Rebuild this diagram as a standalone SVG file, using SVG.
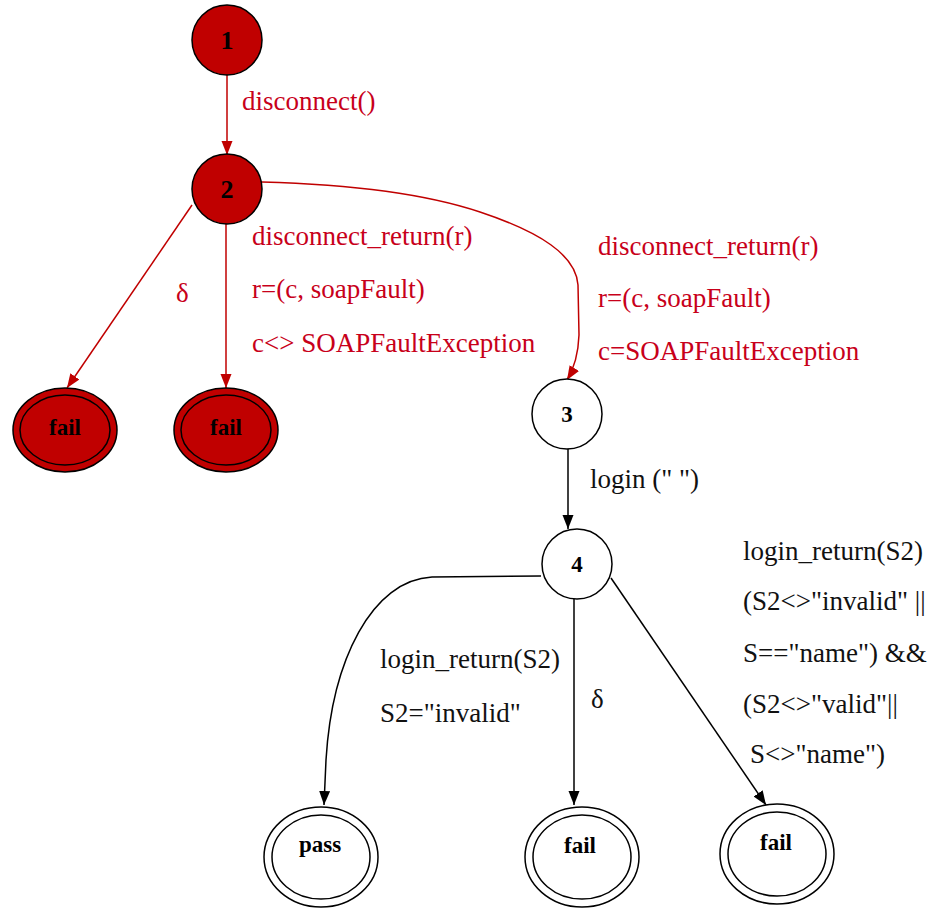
<svg xmlns="http://www.w3.org/2000/svg" width="930" height="908" viewBox="0 0 930 908">
<style>
.lbl{font-family:"Liberation Serif","Times New Roman",serif;font-size:27px}
.red{fill:#c8001a}
.blk{fill:#111}
.nl{font-family:"Liberation Serif","Times New Roman",serif;font-weight:bold;font-size:23px;fill:#000;text-anchor:middle}
.dg{font-size:26px}
.rn{fill:#c00000;stroke:#000;stroke-width:1.5}
.wn{fill:#fff;stroke:#000;stroke-width:1.5}
.er{fill:none;stroke:#c00000;stroke-width:1.5}
.eb{fill:none;stroke:#000;stroke-width:1.5}
</style>
<defs>
<marker id="ar" markerUnits="userSpaceOnUse" markerWidth="15" markerHeight="12" refX="14" refY="5.5" orient="auto"><path d="M0,0 L14,5.5 L0,11 z" fill="#c00000"/></marker>
<marker id="ab" markerUnits="userSpaceOnUse" markerWidth="15" markerHeight="12" refX="14" refY="5.5" orient="auto"><path d="M0,0 L14,5.5 L0,11 z" fill="#000"/></marker>
</defs>
<g id="edges">
<path class="er" d="M227,74 L227,155" marker-end="url(#ar)"/>
<path class="er" d="M192,205 L67,388" marker-end="url(#ar)"/>
<path class="er" d="M226,223 L226,388" marker-end="url(#ar)"/>
<path class="er" d="M262,182 C340,184 420,192 480,212 C540,232 576,255 578,285 L579,335 Q578,362 567,380" marker-end="url(#ar)"/>
<path class="eb" d="M568,448 L568,529" marker-end="url(#ab)"/>
<path class="eb" d="M541,576 L432,577 C372,580 332,660 326,760 L324,805" marker-end="url(#ab)"/>
<path class="eb" d="M574,599 L574,805" marker-end="url(#ab)"/>
<path class="eb" d="M611,578 L766,805" marker-end="url(#ab)"/>
</g>
<g id="edge-labels">
<text class="lbl red" x="242" y="110">disconnect()</text>
<text class="lbl red" x="176" y="302">δ</text>
<text class="lbl red" x="252" y="245">disconnect_return(r)</text>
<text class="lbl red" x="252" y="298">r=(c, soapFault)</text>
<text class="lbl red" x="252" y="352">c&lt;&gt; SOAPFaultException</text>
<text class="lbl red" x="598" y="255">disconnect_return(r)</text>
<text class="lbl red" x="598" y="307">r=(c, soapFault)</text>
<text class="lbl red" x="598" y="360">c=SOAPFaultException</text>
<text class="lbl blk" x="590" y="488">login (" ")</text>
<text class="lbl blk" x="743" y="560">login_return(S2)</text>
<text class="lbl blk" x="743" y="610">(S2&lt;&gt;"invalid" ||</text>
<text class="lbl blk" x="743" y="662">S=="name") &amp;&amp;</text>
<text class="lbl blk" x="743" y="713">(S2&lt;&gt;"valid"||</text>
<text class="lbl blk" x="750" y="763">S&lt;&gt;"name")</text>
<text class="lbl blk" x="380" y="668">login_return(S2)</text>
<text class="lbl blk" x="380" y="722">S2="invalid"</text>
<text class="lbl blk" x="591" y="708">δ</text>
</g>
<g id="n1"><circle class="rn" cx="227" cy="40" r="35"/><text class="nl dg" x="227" y="49">1</text></g>
<g id="n2"><circle class="rn" cx="227" cy="189" r="35"/><text class="nl dg" x="227" y="198">2</text></g>
<g id="fail1"><ellipse class="rn" cx="65" cy="430" rx="52" ry="42"/><ellipse class="rn" cx="65" cy="430" rx="45" ry="35"/><text class="nl" x="65" y="435">fail</text></g>
<g id="fail2"><ellipse class="rn" cx="226" cy="430" rx="52" ry="42"/><ellipse class="rn" cx="226" cy="430" rx="45" ry="35"/><text class="nl" x="226" y="435">fail</text></g>
<g id="n3"><circle class="wn" cx="567" cy="414" r="35"/><text class="nl" x="567" y="422">3</text></g>
<g id="n4"><circle class="wn" cx="577" cy="564" r="35"/><text class="nl" x="577" y="572">4</text></g>
<g id="pass"><ellipse class="wn" cx="321" cy="857" rx="57" ry="50"/><ellipse class="wn" cx="321" cy="857" rx="49" ry="42"/><text class="nl" x="320" y="852">pass</text></g>
<g id="fail3"><ellipse class="wn" cx="582" cy="857" rx="57" ry="50"/><ellipse class="wn" cx="582" cy="857" rx="49" ry="42"/><text class="nl" x="580" y="853">fail</text></g>
<g id="fail4"><ellipse class="wn" cx="777" cy="854" rx="57" ry="50"/><ellipse class="wn" cx="777" cy="854" rx="49" ry="42"/><text class="nl" x="776" y="850">fail</text></g>
</svg>
